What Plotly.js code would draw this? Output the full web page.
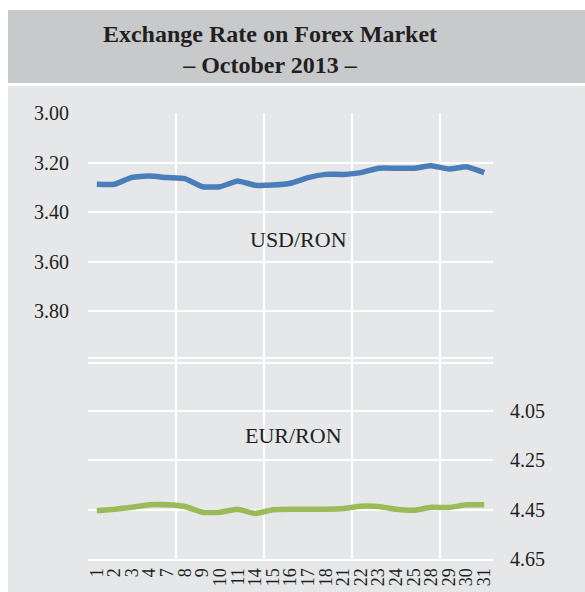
<!DOCTYPE html>
<html>
<head>
<meta charset="utf-8">
<script src="https://cdn.plot.ly/plotly-3.0.1.min.js"></script>
<style>
  html, body { margin: 0; padding: 0; background: #ffffff; }
  #chart { width: 585px; height: 592px; }
</style>
</head>
<body>
<div id="chart"></div>
<script>
// Trading days of October 2013
const days = ['1','2','3','4','7','8','9','10','11','14','15','16','17','18','21','22','23','24','25','28','29','30','31'];
// USD/RON (left axis)
const usd = [3.288,3.288,3.260,3.255,3.261,3.265,3.298,3.298,3.275,3.292,3.291,3.284,3.261,3.248,3.248,3.241,3.223,3.223,3.223,3.213,3.226,3.217,3.241];
// EUR/RON (right axis)
const eur = [4.455,4.449,4.441,4.431,4.431,4.438,4.461,4.461,4.449,4.466,4.451,4.449,4.449,4.449,4.446,4.437,4.438,4.449,4.453,4.441,4.442,4.431,4.431];
// Axis ticks
const leftTicks = [3.00, 3.20, 3.40, 3.60, 3.80];
const leftTickText = ['3.00', '3.20', '3.40', '3.60', '3.80'];
const rightTicks = [4.05, 4.25, 4.45, 4.65];
const rightTickText = ['4.05', '4.25', '4.45', '4.65'];

const FONT = "'Liberation Serif', 'Times New Roman', serif";
const BG = '#e6e7e9';
const BAND = '#c8c9cb';

const traces = [
  {
    x: days, y: usd, type: 'scatter', mode: 'lines', name: 'USD/RON',
    xaxis: 'x', yaxis: 'y',
    line: { color: '#4a7ebb', width: 5.5, shape: 'spline', smoothing: 0.4 },
    hoverinfo: 'x+y'
  },
  {
    x: days, y: eur, type: 'scatter', mode: 'lines', name: 'EUR/RON',
    xaxis: 'x', yaxis: 'y2',
    line: { color: '#9bbb59', width: 5.5, shape: 'spline', smoothing: 0.4 },
    hoverinfo: 'x+y'
  },
  // invisible trace to activate the grid axis
  {
    x: [], y: [], type: 'scatter', mode: 'lines', xaxis: 'x2', yaxis: 'y',
    showlegend: false, hoverinfo: 'skip'
  }
];

const layout = {
  width: 585, height: 592,
  margin: { l: 88, r: 92, t: 113, b: 33, pad: 0 },
  paper_bgcolor: '#ffffff',
  plot_bgcolor: 'rgba(0,0,0,0)',
  showlegend: false,
  font: { family: FONT, color: '#231f20', size: 19 },
  title: {
    text: '<b>Exchange Rate on Forex Market<br>– October 2013 –</b>',
    font: { family: FONT, size: 24, color: '#231f20' },
    xref: 'container', yref: 'container',
    x: 0.4615, xanchor: 'center',
    y: 0.929, yanchor: 'middle'
  },
  xaxis: {
    type: 'category',
    categoryorder: 'array', categoryarray: days,
    range: [-0.5, days.length - 0.5],
    tickmode: 'array', tickvals: days, ticktext: days,
    showgrid: false, zeroline: false,
    showline: true, linecolor: '#ffffff', linewidth: 2,
    tickangle: -90,
    ticks: '',
    tickfont: { family: FONT, size: 18, color: '#231f20' },
    fixedrange: true
  },
  xaxis2: {
    overlaying: 'x',
    type: 'linear',
    range: [-0.5, days.length - 0.5],
    tickmode: 'array',
    tickvals: [-0.5, 4.5, 9.5, 14.5, 19.5],
    showticklabels: false,
    showgrid: true, gridcolor: '#ffffff', gridwidth: 2,
    zeroline: false, showline: false, ticks: '',
    fixedrange: true
  },
  yaxis: {
    range: [4.802, 3.0],
    tickmode: 'array',
    tickvals: leftTicks.concat([3.99]),
    ticktext: leftTickText.concat(['']),
    showgrid: true, gridcolor: '#ffffff', gridwidth: 2,
    zeroline: false, showline: false,
    ticks: 'outside', ticklen: 14, tickcolor: 'rgba(0,0,0,0)',
    tickfont: { family: FONT, size: 20, color: '#231f20' },
    fixedrange: true
  },
  yaxis2: {
    overlaying: 'y', side: 'right',
    range: [4.65, 2.848],
    tickmode: 'array',
    tickvals: rightTicks.concat([3.86]),
    ticktext: rightTickText.concat(['']),
    showgrid: true, gridcolor: '#ffffff', gridwidth: 2,
    zeroline: false, showline: false,
    ticks: 'outside', ticklen: 12, tickcolor: 'rgba(0,0,0,0)',
    tickfont: { family: FONT, size: 20, color: '#231f20' },
    fixedrange: true
  },
  shapes: [
    { type: 'rect', xref: 'paper', yref: 'paper', layer: 'below',
      x0: -0.1975, x1: 1.25, y0: -0.1, y1: 1.0605,
      fillcolor: BG, line: { width: 0 } },
    { type: 'rect', xref: 'paper', yref: 'paper', layer: 'below',
      x0: -0.1975, x1: 1.25, y0: 1.0673, y1: 1.2309,
      fillcolor: BAND, line: { width: 0 } }
  ],
  annotations: [
    { text: 'USD/RON', xref: 'paper', yref: 'y', x: (298 - 88) / 405, y: 3.51,
      showarrow: false, xanchor: 'center', yanchor: 'middle',
      font: { family: FONT, size: 22, color: '#231f20' } },
    { text: 'EUR/RON', xref: 'paper', yref: 'y2', x: (293 - 88) / 405, y: 4.15,
      showarrow: false, xanchor: 'center', yanchor: 'middle',
      font: { family: FONT, size: 22, color: '#231f20' } }
  ]
};

Plotly.newPlot('chart', traces, layout, { displayModeBar: false, staticPlot: true });
</script>
</body>
</html>
